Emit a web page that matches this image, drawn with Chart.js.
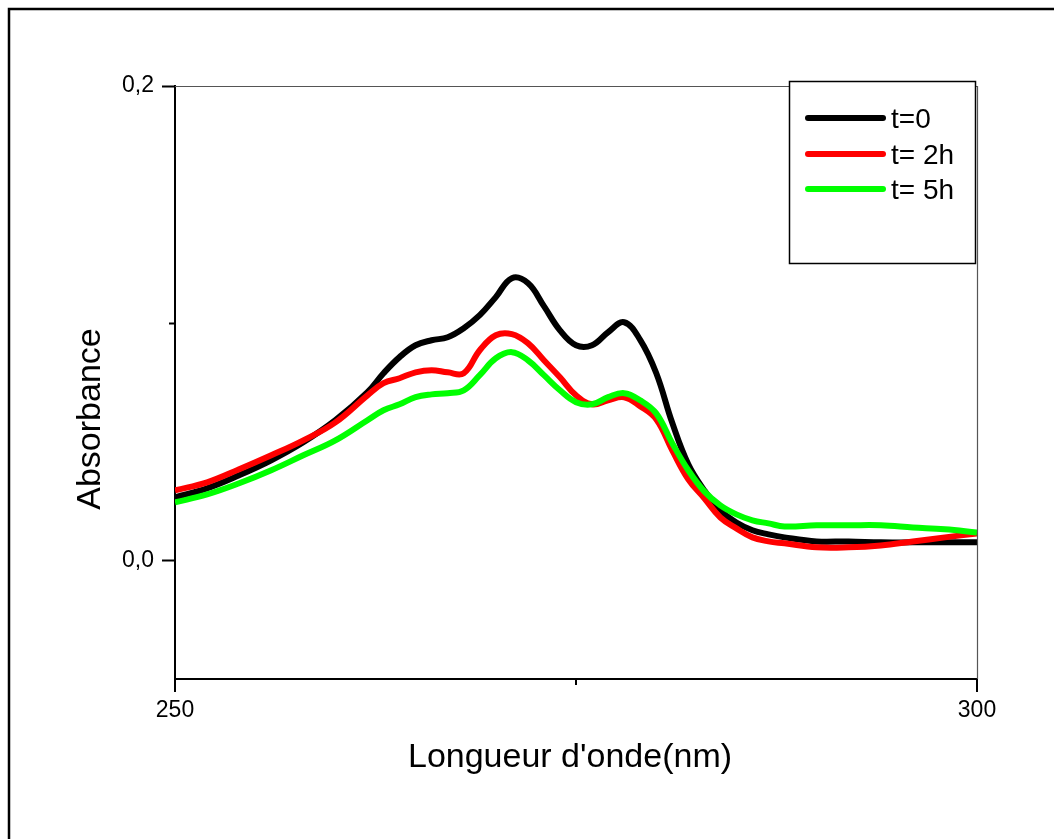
<!DOCTYPE html>
<html>
<head>
<meta charset="utf-8">
<title>Absorbance</title>
<script src="https://cdn.jsdelivr.net/npm/chart.js@4.4.1/dist/chart.umd.min.js"></script>
<style>
  html, body { margin: 0; padding: 0; background: #fff; }
</style>
</head>
<body>
<canvas id="spectraChart" width="1054" height="839"></canvas>
<script>
// wavelengths (nm)
const wavelengths = [250, 252, 254, 256, 258, 260, 262, 263, 264, 265, 266, 267, 268, 269, 270, 271, 272, 273, 274, 275,
  276, 277, 278, 279, 280, 281, 282, 283, 284, 285, 286, 287, 288, 290, 292, 294, 296, 298, 300];

// absorbance at t = 0
const absT0 = [0.0266, 0.0304, 0.0359, 0.0422, 0.0498, 0.0591, 0.0709, 0.0789, 0.0857, 0.0907, 0.0928, 0.0941, 0.0979, 0.1034, 0.1110, 0.1190, 0.1169, 0.1072, 0.0970, 0.0907,
  0.0907, 0.0962, 0.1004, 0.0930, 0.0790, 0.0580, 0.0405, 0.0295, 0.0211, 0.0160, 0.0127, 0.0110, 0.0097, 0.0080, 0.0080, 0.0076, 0.0076, 0.0076, 0.0076];

// absorbance at t = 2h
const absT2 = [0.0295, 0.0329, 0.0384, 0.0443, 0.0506, 0.0582, 0.0696, 0.0747, 0.0768, 0.0793, 0.0802, 0.0793, 0.0789, 0.0886, 0.0949, 0.0954, 0.0916, 0.0844, 0.0772, 0.0696,
  0.0658, 0.0675, 0.0688, 0.0650, 0.0595, 0.0464, 0.0342, 0.0262, 0.0181, 0.0135, 0.0097, 0.0080, 0.0072, 0.0055, 0.0055, 0.0063, 0.0080, 0.0097, 0.0114];

// absorbance at t = 5h
const absT5 = [0.0245, 0.0278, 0.0325, 0.0380, 0.0443, 0.0506, 0.0591, 0.0633, 0.0658, 0.0688, 0.0700, 0.0705, 0.0717, 0.0781, 0.0852, 0.0878, 0.0844, 0.0781, 0.0717, 0.0667,
  0.0658, 0.0688, 0.0705, 0.0675, 0.0620, 0.0494, 0.0380, 0.0291, 0.0232, 0.0194, 0.0169, 0.0156, 0.0143, 0.0148, 0.0148, 0.0148, 0.0139, 0.0131, 0.0118];

const seriesLabels = ['t=0', 't= 2h', 't= 5h'];
const seriesColors = ['#000000', '#ff0000', '#00ff00'];

const xTickValues = [250, 275, 300];
const xTickLabels = ['250', '', '300'];
const yTickValues = [0, 0.1, 0.2];
const yTickLabels = ['0,0', '', '0,2'];

const FONT = '"Liberation Sans", Arial, sans-serif';

function toPoints(values) {
    return wavelengths.map((w, i) => ({ x: w, y: values[i] }));
}

// frame, minor/major ticks, axis titles and the boxed legend
const decorPlugin = {
    id: 'decor',
    afterDraw(chart) {
        const ctx = chart.ctx;
        const area = chart.chartArea;
        const xs = chart.scales.x;
        const ys = chart.scales.y;
        ctx.save();

        // outer frame
        ctx.strokeStyle = '#000';
        ctx.lineWidth = 2.5;
        ctx.strokeRect(9, 9, 1100, 900);

        // thin top / right edges of the plot box
        ctx.strokeStyle = '#555';
        ctx.lineWidth = 1.2;
        ctx.beginPath();
        ctx.moveTo(area.left, area.top + 0.5);
        ctx.lineTo(area.right + 0.5, area.top + 0.5);
        ctx.lineTo(area.right + 0.5, area.bottom);
        ctx.stroke();

        // tick marks, labelled ones longer
        ctx.strokeStyle = '#000';
        ctx.lineWidth = 2;
        ctx.beginPath();
        yTickValues.forEach((v, i) => {
            const len = yTickLabels[i] ? 13 : 6;
            const py = Math.round(ys.getPixelForValue(v)) + 0.5;
            ctx.moveTo(area.left - len, py);
            ctx.lineTo(area.left, py);
        });
        xTickValues.forEach((v, i) => {
            const len = xTickLabels[i] ? 13 : 6;
            const px = Math.round(xs.getPixelForValue(v));
            ctx.moveTo(px, area.bottom);
            ctx.lineTo(px, area.bottom + len);
        });
        ctx.stroke();

        // axis titles
        ctx.fillStyle = '#000';
        ctx.font = '34px ' + FONT;
        ctx.textAlign = 'center';
        ctx.textBaseline = 'alphabetic';
        ctx.fillText("Longueur d'onde(nm)", 570, 767);
        ctx.save();
        ctx.translate(100, 419);
        ctx.rotate(-Math.PI / 2);
        ctx.fillText('Absorbance', 0, 0);
        ctx.restore();

        // legend box
        ctx.fillStyle = '#fff';
        ctx.fillRect(789.5, 81.5, 186, 182);
        ctx.strokeStyle = '#000';
        ctx.lineWidth = 1.5;
        ctx.strokeRect(789.5, 81.5, 186, 182);

        const rowY = [118, 154, 189];
        ctx.font = '28px ' + FONT;
        ctx.textAlign = 'left';
        ctx.lineCap = 'round';
        ctx.lineWidth = 6;
        chart.data.datasets.forEach((ds, i) => {
            ctx.strokeStyle = ds.borderColor;
            ctx.beginPath();
            ctx.moveTo(808, rowY[i]);
            ctx.lineTo(883, rowY[i]);
            ctx.stroke();
            ctx.fillStyle = '#000';
            ctx.fillText(ds.label, 891, rowY[i] + 10);
        });

        ctx.restore();
    }
};

const allSeries = [absT0, absT2, absT5];

const spectraChart = new Chart(document.getElementById('spectraChart'), {
    type: 'line',
    data: {
        datasets: allSeries.map((vals, i) => ({
            label: seriesLabels[i],
            data: toPoints(vals),
            borderColor: seriesColors[i],
            backgroundColor: seriesColors[i],
            borderWidth: 6,
            pointRadius: 0,
            tension: 0.4,
            borderJoinStyle: 'round',
            fill: false,
            order: 3 - i
        }))
    },
    options: {
        responsive: false,
        animation: false,
        layout: { padding: { left: 0, top: 86, right: 77, bottom: 0 } },
        plugins: {
            legend: { display: false },
            tooltip: { enabled: false }
        },
        scales: {
            x: {
                type: 'linear',
                min: 250,
                max: 300,
                afterBuildTicks: scale => { scale.ticks = xTickValues.map(v => ({ value: v })); },
                afterFit: scale => { scale.height = 160; },
                grid: { drawOnChartArea: false, drawTicks: false },
                border: { display: true, color: '#000', width: 2 },
                ticks: {
                    color: '#000',
                    padding: 18,
                    maxRotation: 0,
                    autoSkip: false,
                    font: { family: FONT, size: 23 },
                    callback: (value, index) => xTickLabels[index]
                }
            },
            y: {
                type: 'linear',
                min: -0.05,
                max: 0.2,
                afterBuildTicks: scale => { scale.ticks = yTickValues.map(v => ({ value: v })); },
                afterFit: scale => { scale.width = 175; },
                grid: { drawOnChartArea: false, drawTicks: false },
                border: { display: true, color: '#000', width: 2 },
                ticks: {
                    color: '#000',
                    padding: 21,
                    autoSkip: false,
                    font: { family: FONT, size: 23 },
                    callback: (value, index) => yTickLabels[index]
                }
            }
        }
    },
    plugins: [decorPlugin]
});
</script>
</body>
</html>
